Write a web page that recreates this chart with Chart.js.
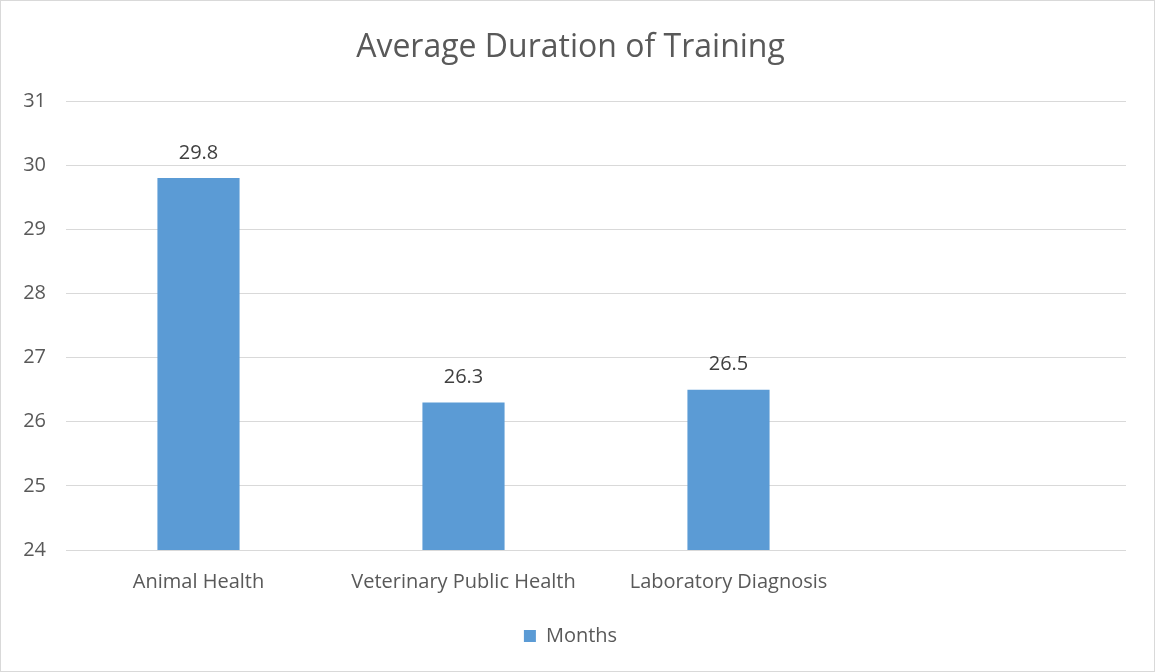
<!DOCTYPE html>
<html>
<head>
<meta charset="utf-8">
<script src="https://cdn.jsdelivr.net/npm/chart.js@4/dist/chart.umd.min.js"></script>
<style>
  html, body { margin: 0; padding: 0; background: #fff; }
  #wrap { position: absolute; left: 0; top: 0; width: 1155px; height: 672px; box-sizing: border-box; border: 1px solid #d9d9d9; }
  #chart { position: absolute; left: 0; top: 0; }
</style>
</head>
<body>
<div id="wrap"><canvas id="chart" width="1153" height="670"></canvas></div>
<script>
// datos de la gráfica
const categories = ["Animal Health", "Veterinary Public Health", "Laboratory Diagnosis", ""];
const months = [29.8, 26.3, 26.5, null];
const yTicks = [24, 25, 26, 27, 28, 29, 30, 31];

const FONT = "'Open Sans', 'Liberation Sans', sans-serif";
const TICK_SIZE = 20;

// --- etiquetas de valor encima de cada barra ---
const valueLabels = {
    id: "valueLabels",
    afterDatasetsDraw(chart) {
        const ctx = chart.ctx;
        const meta = chart.getDatasetMeta(0);
        ctx.save();
        ctx.font = "20px " + FONT;
        ctx.fillStyle = "#404040";
        ctx.textAlign = "center";
        ctx.textBaseline = "middle";
        meta.data.forEach((bar, i) => {
            if (months[i] == null) return;
            ctx.fillText(months[i].toFixed(1), bar.x, bar.y - 25);
        });
        ctx.restore();
    }
};

new Chart(document.getElementById("chart"), {
    type: "bar",
    data: {
        labels: categories,
        datasets: [{
            label: "Months",
            data: months,
            backgroundColor: "#5b9bd5",
            categoryPercentage: 1,
            barPercentage: 0.31
        }]
    },
    options: {
        responsive: false,
        animation: false,
        layout: { padding: { left: 14, right: 28, top: 0, bottom: 15 } },
        plugins: {
            title: {
                display: true,
                text: "Average Duration of Training",
                color: "#595959",
                font: { family: FONT, size: 32, weight: "normal" },
                padding: { top: 28, bottom: 33.6 }
            },
            legend: {
                position: "bottom",
                labels: {
                    color: "#595959",
                    font: { family: FONT, size: TICK_SIZE },
                    boxWidth: 12,
                    boxHeight: 12,
                    padding: 6
                }
            },
            tooltip: { enabled: false }
        },
        scales: {
            y: {
                min: 24,
                max: 31,
                afterBuildTicks(scale) { scale.ticks = yTicks.map(v => ({ value: v })); },
                afterFit(scale) { scale.width = 51; },
                ticks: { color: "#595959", font: { family: FONT, size: TICK_SIZE }, padding: 20 },
                grid: { color: "#d9d9d9", drawTicks: false },
                border: { display: false }
            },
            x: {
                afterFit(scale) { scale.height = 70; },
                ticks: { color: "#595959", font: { family: FONT, size: TICK_SIZE }, padding: 20 },
                grid: { display: false, drawTicks: false },
                border: { display: false }
            }
        }
    },
    plugins: [valueLabels]
});
</script>
</body>
</html>
